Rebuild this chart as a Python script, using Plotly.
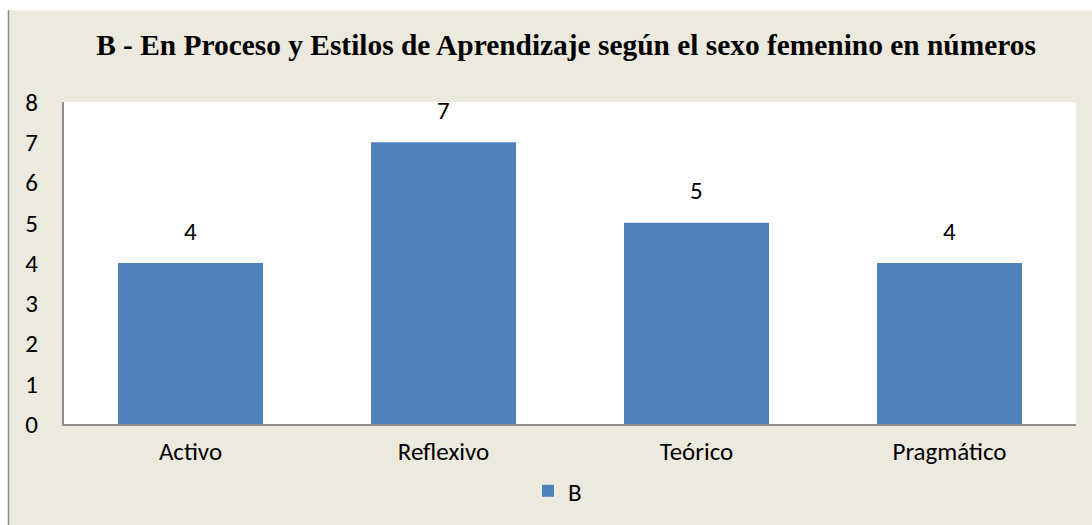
import plotly.graph_objects as go

categories = ["Activo", "Reflexivo", "Teórico", "Pragmático"]
values = [4, 7, 5, 4]
series_name = "B"
y_ticks = [0, 1, 2, 3, 4, 5, 6, 7, 8]
title_text = "B - En Proceso y Estilos de Aprendizaje según el sexo femenino en números"

BEIGE = "#ECE9DF"
BLUE = "#4F81BD"
FONT = "Calibri, Carlito, Lato, sans-serif"
FS = 25

fig = go.Figure()
fig.add_trace(go.Bar(x=categories, y=values, name=series_name,
                     marker=dict(color=BLUE, line=dict(width=0)),
                     showlegend=True))

for c, v in zip(categories, values):
    fig.add_annotation(x=c, y=v, text=str(v), showarrow=False, yshift=32,
                       font=dict(family=FONT, size=FS, color="#000000"))

W, H = 1092, 525
ml, mr, mt, mb = 64, 16, 102, 100
pw, ph = W - ml - mr, H - mt - mb

def px_x(p):
    return (p - ml) / pw

def px_y(p):
    return (H - mb - p) / ph

shapes = [
    dict(type="rect", xref="paper", yref="paper", x0=px_x(-5), x1=px_x(W + 5),
         y0=px_y(10), y1=px_y(-5), fillcolor="#FFFFFF", line=dict(width=0), layer="above"),
    dict(type="rect", xref="paper", yref="paper", x0=px_x(-5), x1=px_x(8),
         y0=px_y(H + 5), y1=px_y(-5), fillcolor="#FFFFFF", line=dict(width=0), layer="above"),
    dict(type="line", xref="paper", yref="paper", x0=px_x(8.5), x1=px_x(8.5),
         y0=px_y(10), y1=px_y(H + 5), line=dict(color="#8C8C8C", width=1.5), layer="above"),
]

fig.update_layout(
    width=W, height=H,
    margin=dict(l=ml, r=mr, t=mt, b=mb, pad=0),
    paper_bgcolor=BEIGE, plot_bgcolor="#FFFFFF",
    bargap=0.427,
    title=dict(text="<b>" + title_text + "</b>", x=566 / W, xanchor="center",
               y=1 - 45 / H, yanchor="middle",
               font=dict(family="Times New Roman, Liberation Serif, serif", size=29.4, color="#000000")),
    font=dict(family=FONT, size=FS, color="#000000"),
    xaxis=dict(showgrid=False, showline=True, linecolor="#8C8C8C", linewidth=2,
               ticks="", tickfont=dict(family=FONT, size=FS), ticklabelstandoff=4,
               zeroline=False),
    yaxis=dict(range=[0, 8], tickvals=y_ticks, showgrid=False, showline=True,
               linecolor="#8C8C8C", linewidth=2, ticks="", zeroline=False,
               tickfont=dict(family=FONT, size=FS), ticklabelstandoff=19),
    legend=dict(orientation="h", x=px_x(528), xanchor="left", y=px_y(491), yanchor="middle",
                bgcolor="rgba(0,0,0,0)", font=dict(family=FONT, size=FS),
                itemwidth=30),
    shapes=shapes,
)

fig.write_html("out.html", config={"displayModeBar": False},
               post_script="document.body.style.margin='0';document.body.style.padding='0';")
